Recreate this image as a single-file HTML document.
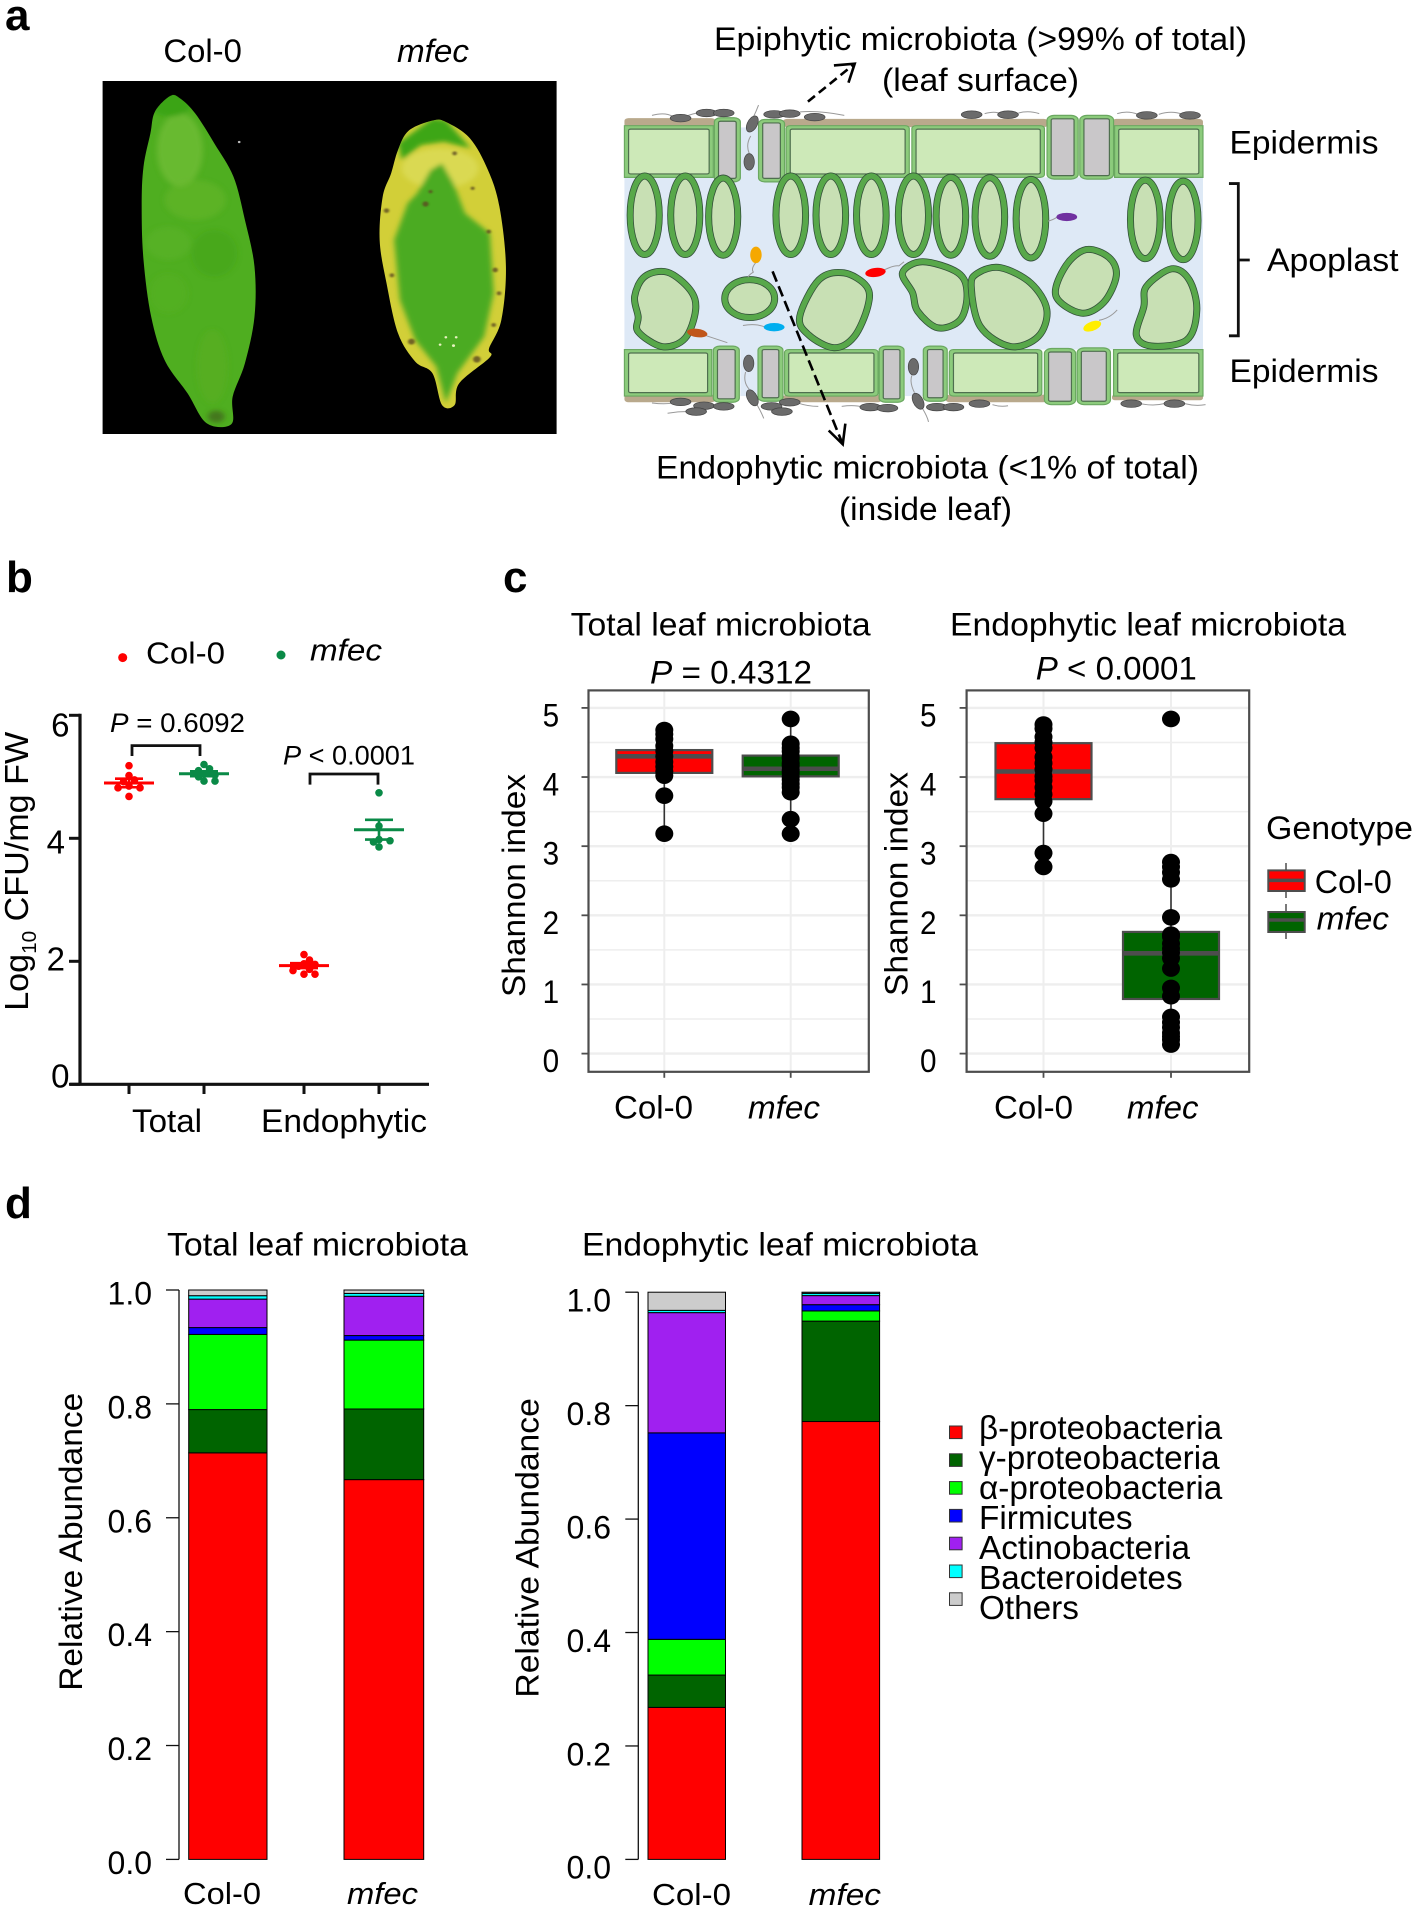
<!DOCTYPE html>
<html lang="en">
<head>
<meta charset="utf-8">
<title>Leaf microbiota figure</title>
<style>
html,body{margin:0;padding:0;background:#fff;}
#figure{display:block;width:1415px;height:1909px;font-family:"Liberation Sans",Arial,sans-serif;fill:#000;}
.ns *{vector-effect:non-scaling-stroke;}
.plabel{font-weight:bold;font-size:44px;}
.t31{font-size:32px;}
.i{font-style:italic;}
.epi{fill:#8ccb7c;stroke:#6aa860;stroke-width:1.2;}
.guard{fill:#8ccb7c;stroke:#6aa860;stroke-width:1.2;}
.cell{fill:none;stroke:#58a84a;stroke-width:5.4;}
.bact{fill:#6b6b6b;stroke:#444;stroke-width:.7;}
.flag{fill:none;stroke:#999;stroke-width:1;}
</style>
</head>
<body>
<svg id="figure" xmlns="http://www.w3.org/2000/svg" width="1415" height="1909" viewBox="0 0 1415 1909">
<defs>
<filter id="soft" x="-20%" y="-20%" width="140%" height="140%"><feGaussianBlur stdDeviation="7"/></filter>
<filter id="soft2" x="-20%" y="-20%" width="140%" height="140%"><feGaussianBlur stdDeviation="2.5"/></filter>
<clipPath id="leaf1clip"><path data-pts="445,288 405,335 393,400 375,500 370,620 375,780 395,950 430,1080 490,1180 540,1270 605,1272 608,1190 640,1090 665,950 665,800 640,660 610,530 560,430 510,340 470,295"/></clipPath>
<clipPath id="leaf2clip"><path data-pts="1130,362 1068,392 1040,450 1022,520 1000,590 992,720 1010,850 1040,1000 1085,1085 1130,1120 1155,1215 1188,1215 1200,1150 1280,1072 1278,1045 1310,960 1322,800 1305,620 1275,510 1228,415 1165,366"/></clipPath>
</defs>

<text class="plabel" x="5" y="30">a</text>
<text class="plabel" x="6" y="592">b</text>
<text class="plabel" x="503" y="592">c</text>
<text class="plabel" x="5" y="1218">d</text>

<!-- panel a: leaves -->
<g>
<text class="t31" x="163.4" y="62" textLength="78.5" lengthAdjust="spacingAndGlyphs">Col-0</text>
<text class="t31 i" x="397" y="62" textLength="72" lengthAdjust="spacingAndGlyphs">mfec</text>
<rect x="102.6" y="81" width="454" height="353" fill="#000"/>
<g transform="scale(.3827,.3333)">
<g clip-path="url(#leaf1clip)">
<rect x="350" y="270" width="340" height="1020" fill="#4fae20"/>
<g filter="url(#soft)">
<ellipse cx="470" cy="450" rx="60" ry="110" fill="#7cc23a" opacity=".6"/>
<ellipse cx="510" cy="600" rx="80" ry="60" fill="#68b82e" opacity=".5"/>
<ellipse cx="440" cy="730" rx="60" ry="50" fill="#5cb328" opacity=".5"/>
<ellipse cx="560" cy="760" rx="60" ry="70" fill="#3ea217" opacity=".45"/>
<ellipse cx="440" cy="880" rx="50" ry="60" fill="#58b126" opacity=".5"/>
<ellipse cx="555" cy="1100" rx="40" ry="110" fill="#5cae22" opacity=".5"/>
<ellipse cx="565" cy="1250" rx="22" ry="18" fill="#3f5f1a" opacity=".7"/>
<ellipse cx="445" cy="300" rx="60" ry="50" fill="#35a010" opacity=".7"/>
</g>
</g>
<g clip-path="url(#leaf2clip)">
<rect x="980" y="350" width="350" height="880" fill="#d2cf38"/>
<g filter="url(#soft)">
<ellipse cx="1150" cy="505" rx="100" ry="60" fill="#dcdc58" opacity=".8"/>
<path d="M1065 610 L1030 720 L1045 900 L1085 1020 L1140 1100 L1165 1210 L1195 1120 L1265 1010 L1290 880 L1280 700 L1215 640 L1185 550 L1155 490 L1125 510 L1090 580Z" fill="#4cab20"/>
<path d="M1130 355 L1040 430 L1050 480 L1100 435 L1160 425 L1230 445 L1165 360Z" fill="#3da615"/>
</g>
<g filter="url(#soft2)" fill="#5b4a20" opacity=".8">
<circle cx="1112" cy="612" r="8"/><circle cx="1010" cy="632" r="7"/><circle cx="1188" cy="460" r="6"/><circle cx="1125" cy="575" r="5"/>
<circle cx="1277" cy="695" r="6"/><circle cx="1294" cy="810" r="7"/><circle cx="1304" cy="880" r="6"/><circle cx="1075" cy="1025" r="9"/>
<circle cx="1246" cy="1078" r="10"/><circle cx="1290" cy="975" r="6"/><circle cx="1024" cy="826" r="6"/><circle cx="1235" cy="565" r="5"/>
</g>
</g>
<g fill="#e8f2c0">
<circle cx="1165" cy="1012" r="3.5"/><circle cx="1192" cy="1012" r="3.5"/><circle cx="1150" cy="1034" r="3.5"/><circle cx="1185" cy="1037" r="4"/>
<circle cx="625" cy="426" r="3.5" fill="#bbb"/>
</g>
</g>
</g>

<!-- panel a: diagram -->
<g class="ns" transform="translate(600,0) scale(.5198,.3444)">
<rect x="47" y="515" width="1113" height="500" fill="#dee9f6"/>
<rect x="270" y="370" width="35" height="150" fill="#dee9f6"/>
<rect x="270" y="1010" width="35" height="140" fill="#dee9f6"/>
<rect x="587" y="1010" width="35" height="140" fill="#dee9f6"/>
<g fill="#b9a98c">
<rect x="47" y="343" width="175" height="26" rx="8"/><rect x="352" y="345" width="510" height="24" rx="8"/><rect x="985" y="345" width="175" height="24" rx="8"/>
<rect x="47" y="1146" width="175" height="22" rx="8"/><rect x="352" y="1146" width="190" height="22" rx="8"/><rect x="665" y="1146" width="195" height="22" rx="8"/><rect x="985" y="1146" width="175" height="16" rx="6"/>
</g>
<g>
<rect class="epi" x="47" y="365" width="171" height="150"/><rect class="epi" x="358" y="365" width="237" height="150" rx="8"/><rect class="epi" x="600" y="365" width="255" height="150" rx="8"/><rect class="epi" x="990" y="365" width="170" height="150"/>
<rect class="guard" x="220" y="342" width="50" height="186" rx="12"/><rect class="guard" x="305" y="347" width="50" height="181" rx="12"/><rect class="guard" x="860" y="335" width="60" height="185" rx="14"/><rect class="guard" x="923" y="335" width="65" height="185" rx="14"/>
<rect class="epi" x="47" y="1015" width="168" height="135"/><rect class="epi" x="355" y="1015" width="180" height="135" rx="8"/><rect class="epi" x="672" y="1015" width="178" height="135" rx="8"/><rect class="epi" x="988" y="1015" width="172" height="135"/>
<rect class="guard" x="218" y="1005" width="50" height="163" rx="12"/><rect class="guard" x="304" y="1005" width="48" height="160" rx="12"/><rect class="guard" x="537" y="1005" width="48" height="163" rx="12"/><rect class="guard" x="622" y="1005" width="46" height="160" rx="12"/><rect class="guard" x="855" y="1012" width="60" height="163" rx="14"/><rect class="guard" x="918" y="1010" width="64" height="165" rx="14"/>
</g>
<g>
<ellipse class="cell" cx="86" cy="625" rx="28" ry="114"/><ellipse class="cell" cx="164" cy="625" rx="28" ry="114"/><ellipse class="cell" cx="237" cy="629" rx="28" ry="112"/>
<ellipse class="cell" cx="367" cy="625" rx="28.5" ry="114"/><ellipse class="cell" cx="444" cy="625" rx="28.5" ry="114"/><ellipse class="cell" cx="522" cy="625" rx="28.5" ry="114"/><ellipse class="cell" cx="603" cy="625" rx="29" ry="114"/><ellipse class="cell" cx="675" cy="628" rx="28.5" ry="113"/><ellipse class="cell" cx="750" cy="630" rx="28.5" ry="114"/><ellipse class="cell" cx="829" cy="635" rx="28.5" ry="114"/>
<ellipse class="cell" cx="1049" cy="637" rx="28.5" ry="114"/><ellipse class="cell" cx="1122" cy="640" rx="28.5" ry="114"/>
</g>
<g>
<path class="cell" data-pts="65,860 72,920 72,965 120,1010 165,985 186,900 175,840 130,787 85,800"/>
<ellipse class="cell" cx="288" cy="867" rx="48" ry="55"/>
<path class="cell" data-pts="382,920 400,975 450,1013 490,980 517,890 515,830 470,789 420,810"/>
<path class="cell" data-pts="580,790 600,850 610,905 650,955 695,930 708,850 690,790 620,757"/>
<path class="cell" data-pts="712,830 730,950 790,1010 845,980 862,900 830,820 770,774 725,790"/>
<path class="cell" data-pts="875,860 925,912 970,880 995,800 980,745 935,722 895,770"/>
<path class="cell" data-pts="1030,975 1060,1008 1130,990 1150,900 1135,810 1100,777 1050,830 1045,890"/>
</g>
<g>
<path class="flag" d="M300 762 Q290 780 295 790 Q285 800 285 805"/>
<ellipse cx="300" cy="740" rx="11" ry="24" fill="#f5a800"/>
<path class="flag" d="M545 785 Q565 770 575 772 L585 760"/>
<ellipse cx="530" cy="791" rx="20" ry="13" fill="#ff0000" transform="rotate(-15 530 791)"/>
<path class="flag" d="M880 630 Q870 640 862 642"/>
<ellipse cx="898" cy="630" rx="20" ry="12" fill="#7030a0"/>
<path class="flag" d="M318 950 Q300 938 275 945"/>
<ellipse cx="335" cy="950" rx="20" ry="12" fill="#00aeef"/>
<path class="flag" d="M205 975 Q225 985 245 995"/>
<ellipse cx="187" cy="967" rx="20" ry="12" fill="#c0561a" transform="rotate(15 187 967)"/>
<path class="flag" d="M960 930 Q980 925 995 900"/>
<ellipse cx="947" cy="947" rx="20" ry="12" fill="#ffee00" transform="rotate(-40 947 947)"/>
</g>
<g>
<path class="flag" d="M100 335 Q125 325 140 338 M170 335 Q190 325 215 322 M385 325 Q420 320 470 335 M740 330 Q760 322 770 330 M805 328 Q825 320 845 330 M995 330 Q1015 320 1035 332 M1075 332 Q1100 320 1120 332 M305 305 Q300 325 295 340 M290 395 Q280 420 287 445 M100 1170 Q125 1175 140 1170 M130 1200 Q150 1195 170 1195 M300 1170 Q310 1195 315 1215 M380 1170 Q400 1180 420 1180 M465 1180 Q490 1175 505 1182 M600 1090 Q595 1110 605 1140 M620 1185 Q630 1210 632 1225 M755 1175 Q770 1182 785 1178 M1040 1172 Q1065 1180 1085 1172 M1125 1172 Q1145 1180 1165 1175 M280 1080 Q275 1110 287 1130"/>
<g class="bact-set">
<ellipse class="bact" cx="155" cy="343" rx="20" ry="11"/><ellipse class="bact" cx="205" cy="328" rx="20" ry="11"/><ellipse class="bact" cx="238" cy="328" rx="20" ry="11"/><ellipse class="bact" cx="335" cy="332" rx="20" ry="11"/><ellipse class="bact" cx="365" cy="330" rx="20" ry="11"/><ellipse class="bact" cx="413" cy="340" rx="20" ry="11"/><ellipse class="bact" cx="715" cy="333" rx="20" ry="11"/><ellipse class="bact" cx="785" cy="333" rx="20" ry="11"/><ellipse class="bact" cx="1052" cy="335" rx="20" ry="11"/><ellipse class="bact" cx="1135" cy="335" rx="20" ry="11"/>
<ellipse class="bact" cx="293" cy="360" rx="10" ry="24" transform="rotate(15 293 360)"/><ellipse class="bact" cx="287" cy="470" rx="10" ry="24"/>
<ellipse class="bact" cx="155" cy="1167" rx="20" ry="11"/><ellipse class="bact" cx="200" cy="1178" rx="20" ry="11"/><ellipse class="bact" cx="238" cy="1180" rx="20" ry="11"/><ellipse class="bact" cx="185" cy="1195" rx="20" ry="11"/><ellipse class="bact" cx="330" cy="1180" rx="20" ry="11"/><ellipse class="bact" cx="365" cy="1168" rx="20" ry="11"/><ellipse class="bact" cx="350" cy="1195" rx="20" ry="11"/><ellipse class="bact" cx="520" cy="1182" rx="20" ry="11"/><ellipse class="bact" cx="553" cy="1185" rx="20" ry="11"/><ellipse class="bact" cx="648" cy="1182" rx="20" ry="11"/><ellipse class="bact" cx="680" cy="1182" rx="20" ry="11"/><ellipse class="bact" cx="730" cy="1172" rx="20" ry="11"/><ellipse class="bact" cx="1022" cy="1172" rx="20" ry="11"/><ellipse class="bact" cx="1105" cy="1172" rx="20" ry="11"/>
<ellipse class="bact" cx="286" cy="1055" rx="10" ry="24"/><ellipse class="bact" cx="293" cy="1155" rx="10" ry="24" transform="rotate(-15 293 1155)"/><ellipse class="bact" cx="603" cy="1065" rx="10" ry="24"/><ellipse class="bact" cx="612" cy="1165" rx="10" ry="24" transform="rotate(-15 612 1165)"/>
</g>
</g>
<g fill="none" stroke="#000" stroke-width="2.6">
<path d="M400 295 L490 185" stroke-dasharray="9 5"/>
<path d="M450 190 L490 185 L478 240"/>
<path d="M332 788 L467 1290" stroke-dasharray="11 5"/>
<path d="M440 1250 L467 1290 L472 1230"/>
</g>
<path d="M1210 533 H1228 V975 H1210 M1228 755 H1250" fill="none" stroke="#111" stroke-width="2.8"/>
</g>
<g class="t31">
<text x="714" y="50" textLength="533" lengthAdjust="spacingAndGlyphs">Epiphytic microbiota (&gt;99% of total)</text>
<text x="882" y="91" textLength="197" lengthAdjust="spacingAndGlyphs">(leaf surface)</text>
<text x="1229.5" y="153.5" textLength="149" lengthAdjust="spacingAndGlyphs">Epidermis</text>
<text x="1267" y="271" textLength="131.5" lengthAdjust="spacingAndGlyphs">Apoplast</text>
<text x="1229.5" y="382" textLength="149" lengthAdjust="spacingAndGlyphs">Epidermis</text>
<text x="656" y="478.5" textLength="543" lengthAdjust="spacingAndGlyphs">Endophytic microbiota (&lt;1% of total)</text>
<text x="839" y="520" textLength="173" lengthAdjust="spacingAndGlyphs">(inside leaf)</text>
</g>

<!-- panel b static text -->
<g id="panelB">
<circle cx="122.7" cy="657.6" r="4.5" fill="#ff0000"/>
<text x="146" y="663.3" font-size="31" textLength="79" lengthAdjust="spacingAndGlyphs">Col-0</text>
<circle cx="281" cy="655" r="4.5" fill="#0a8a47"/>
<text class="i" x="310" y="660.3" font-size="31" textLength="72" lengthAdjust="spacingAndGlyphs">mfec</text>
<text transform="translate(28,1010.8) rotate(-90)" font-size="33" textLength="279" lengthAdjust="spacingAndGlyphs">Log<tspan font-size="20" dy="8">10</tspan><tspan dy="-8"> CFU/mg FW</tspan></text>
<text x="110" y="732.2" font-size="27" textLength="135" lengthAdjust="spacingAndGlyphs"><tspan class="i">P</tspan> = 0.6092</text>
<text x="283" y="764.7" font-size="27" textLength="132" lengthAdjust="spacingAndGlyphs"><tspan class="i">P</tspan> &lt; 0.0001</text>
<path d="M132 756 V745.6 H200 V756" fill="none" stroke="#111" stroke-width="2.8"/>
<path d="M310 784.6 V774 H378 V784.6" fill="none" stroke="#111" stroke-width="2.8"/>
<text x="132" y="1132" font-size="32" textLength="70" lengthAdjust="spacingAndGlyphs">Total</text>
<text x="261" y="1132" font-size="32" textLength="166" lengthAdjust="spacingAndGlyphs">Endophytic</text>
</g>

<!-- panel c static text -->
<g id="panelC">
<text x="570.6" y="635.7" class="t31" textLength="300" lengthAdjust="spacingAndGlyphs">Total leaf microbiota</text>
<text x="650" y="683.6" class="t31" textLength="162" lengthAdjust="spacingAndGlyphs"><tspan class="i">P</tspan> = 0.4312</text>
<text x="950" y="635.7" class="t31" textLength="396" lengthAdjust="spacingAndGlyphs">Endophytic leaf microbiota</text>
<text x="1035.8" y="679.3" class="t31" textLength="161" lengthAdjust="spacingAndGlyphs"><tspan class="i">P</tspan> &lt; 0.0001</text>
<text transform="translate(525,997) rotate(-90)" class="t31" textLength="223" lengthAdjust="spacingAndGlyphs">Shannon index</text>
<text transform="translate(907.5,996) rotate(-90)" class="t31" textLength="224" lengthAdjust="spacingAndGlyphs">Shannon index</text>
<text x="1266" y="839" class="t31" textLength="147" lengthAdjust="spacingAndGlyphs">Genotype</text>
<g>
<path d="M1286 863 V898" stroke="#4d4d4d" stroke-width="1.5"/>
<rect x="1268.3" y="870.4" width="36.4" height="20.6" fill="#ff0000" stroke="#4d4d4d" stroke-width="2"/>
<path d="M1268.3 880.4 H1304.7" stroke="#4d4d4d" stroke-width="3.5"/>
</g>
<text x="1314.8" y="892.9" class="t31" textLength="77" lengthAdjust="spacingAndGlyphs">Col-0</text>
<g>
<path d="M1286 904 V939" stroke="#4d4d4d" stroke-width="1.5"/>
<rect x="1268.3" y="912" width="36.4" height="20" fill="#006400" stroke="#4d4d4d" stroke-width="2"/>
<path d="M1268.3 920 H1304.7" stroke="#4d4d4d" stroke-width="3.5"/>
</g>
<text x="1316.6" y="929.3" class="t31 i" textLength="72.4" lengthAdjust="spacingAndGlyphs">mfec</text>
</g>

<!-- panel d static text -->
<g id="panelD">
<text x="167" y="1255.6" class="t31" textLength="301" lengthAdjust="spacingAndGlyphs">Total leaf microbiota</text>
<text x="582" y="1255.6" class="t31" textLength="396" lengthAdjust="spacingAndGlyphs">Endophytic leaf microbiota</text>
<text transform="translate(82,1690.8) rotate(-90)" class="t31" textLength="298" lengthAdjust="spacingAndGlyphs">Relative Abundance</text>
<text transform="translate(538.3,1697.6) rotate(-90)" class="t31" textLength="299.4" lengthAdjust="spacingAndGlyphs">Relative Abundance</text>
</g>
</svg>

<script>
// ---------- Panel b data ----------
const bColTotal = [5.18, 5.02, 4.95, 4.92, 4.85, 4.82, 4.82, 4.68];
const bMfecTotal = [5.2, 5.13, 5.1, 5.05, 5.03, 5.0, 4.93, 4.93];
const bColEndo = [2.11, 2.02, 1.96, 1.95, 1.92, 1.87, 1.85, 1.79, 1.79];
const bMfecEndo = [4.74, 4.2, 3.98, 3.96, 3.94, 3.86];
const bColMeans = [4.9, 1.93];
const bMfecMeans = [5.05, 4.14];
const bColSem = [0.07, 0.04];
const bMfecSem = [0.04, 0.16];
const bTickLabels = ['0', '2', '4', '6'];

// ---------- Panel c data ----------
const cTotalColPoints = [4.68, 4.62, 4.55, 4.45, 4.38, 4.3, 4.22, 4.15, 4.08, 4.02, 3.73, 3.18];
const cTotalMfecPoints = [4.84, 4.48, 4.42, 4.37, 4.3, 4.27, 4.2, 4.16, 4.1, 4.06, 4.0, 3.96, 3.9, 3.85, 3.78, 3.39, 3.18];
const cEndoColPoints = [4.76, 4.7, 4.58, 4.5, 4.42, 4.29, 4.2, 4.11, 4.01, 3.95, 3.85, 3.75, 3.65, 3.47, 2.9, 2.7];
const cEndoMfecPoints = [4.84, 2.77, 2.7, 2.62, 2.52, 1.97, 1.72, 1.69, 1.59, 1.52, 1.46, 1.38, 1.23, 0.95, 0.83, 0.53, 0.45, 0.38, 0.3, 0.25, 0.2, 0.13];
const cTotalColBox = [4.06, 4.3, 4.39];
const cTotalMfecBox = [4.01, 4.12, 4.31];
const cEndoColBox = [3.68, 4.08, 4.49];
const cEndoMfecBox = [0.79, 1.45, 1.76];
const cTotalColWhisker = [3.18, 4.68];
const cTotalMfecWhisker = [3.18, 4.84];
const cEndoColWhisker = [2.7, 4.76];
const cEndoMfecWhisker = [0.13, 2.77];
const cTickLabels = ['0', '1', '2', '3', '4', '5'];

// ---------- Panel d data ----------
const dTaxa = ['β-proteobacteria', 'γ-proteobacteria', 'α-proteobacteria', 'Firmicutes', 'Actinobacteria', 'Bacteroidetes', 'Others'];
const dTotalCol = [0.714, 0.076, 0.132, 0.012, 0.050, 0.006, 0.010];
const dTotalMfec = [0.667, 0.124, 0.121, 0.008, 0.069, 0.005, 0.006];
const dEndoCol = [0.268, 0.057, 0.063, 0.364, 0.212, 0.004, 0.032];
const dEndoMfec = [0.772, 0.177, 0.018, 0.011, 0.016, 0.004, 0.002];
const dTickLabels = ['0.0', '0.2', '0.4', '0.6', '0.8', '1.0'];
const dPalette = ['#ff0000', '#006400', '#00ff00', '#0000ff', '#a020f0', '#00ffff', '#cccccc'];

const NS = 'http://www.w3.org/2000/svg';
function add(parent, tag, attrs) {
  const el = document.createElementNS(NS, tag);
  for (const k in attrs) el.setAttribute(k, attrs[k]);
  parent.appendChild(el);
  return el;
}
function addText(parent, str, attrs) {
  const t = add(parent, 'text', attrs);
  t.textContent = str;
  return t;
}

// ---------- Illustration helpers ----------
function smoothClosed(str, shrink) {
  let p = str.trim().split(/\s+/).map(function (s) { return s.split(',').map(Number); });
  const n = p.length;
  const mx = p.reduce(function (a, q) { return a + q[0]; }, 0) / n;
  const my = p.reduce(function (a, q) { return a + q[1]; }, 0) / n;
  p = p.map(function (q) { return [mx + (q[0] - mx) * shrink, my + (q[1] - my) * shrink]; });
  let d = 'M' + p[0][0] + ' ' + p[0][1];
  for (let i = 0; i < n; i++) {
    const a = p[(i - 1 + n) % n], b = p[i], c = p[(i + 1) % n], e = p[(i + 2) % n];
    d += ' C' + (b[0] + (c[0] - a[0]) / 6) + ' ' + (b[1] + (c[1] - a[1]) / 6) + ' ' +
      (c[0] - (e[0] - b[0]) / 6) + ' ' + (c[1] - (e[1] - b[1]) / 6) + ' ' + c[0] + ' ' + c[1];
  }
  return d + 'Z';
}
document.querySelectorAll('[data-pts]').forEach(function (el) {
  el.setAttribute('d', smoothClosed(el.getAttribute('data-pts'), el.classList.contains('cell') ? 0.97 : 1));
});
document.querySelectorAll('.cell').forEach(function (el) {
  const under = el.cloneNode(false);
  under.removeAttribute('class');
  under.setAttribute('fill', '#c8e0b4');
  under.setAttribute('stroke', '#33503a');
  under.setAttribute('stroke-width', '7');
  
  
  el.parentNode.insertBefore(under, el);
  
  
});
document.querySelectorAll('.epi, .guard').forEach(function (el) {
  const x = +el.getAttribute('x'), y = +el.getAttribute('y'), w = +el.getAttribute('width'), h = +el.getAttribute('height');
  const inner = add(el.parentNode, 'rect', {
    x: x + 8, y: y + 10, width: w - 16, height: h - 20, rx: 4,
    fill: el.classList.contains('epi') ? '#cde9b8' : '#c9c7c9', stroke: '#4f6f4f', 'stroke-width': 1.2
  });
  
  
  
  
});
document.querySelectorAll('.bact').forEach(function (el) {
  
  
});

// ---------- Panel b ----------
const panelB = document.getElementById('panelB');
const bY = function (v) { return 1084.3 - 61.5 * v; };
const bLabelY = function (v) { return 1087.4 - 58.5 * v; };
const bXPositions = function (groupIndex, seriesIndex) {
  return [[129, 204], [304, 379]][groupIndex][seriesIndex];
};
function swarm(values, step, minDist) {
  const placed = [];
  values.forEach(function (v) {
    const y = bY(v);
    let k = 0, dx = 0;
    for (;;) {
      dx = k === 0 ? 0 : (k % 2 ? 1 : -1) * Math.ceil(k / 2) * step;
      const clash = placed.some(function (p) {
        return Math.hypot(p.dx - dx, p.y - y) < minDist;
      });
      if (!clash) break;
      k++;
    }
    placed.push({ dx: dx, y: y });
  });
  return placed;
}
function drawB(values, mean, sem, gi, si, color, name) {
  const cx = bXPositions(gi, si);
  swarm(values, 5.5, 6).forEach(function (p) {
    const dot = add(panelB, 'circle', { cx: cx + p.dx, cy: p.y, r: 3.8, fill: color });
    
    
  });
  const meanLine = add(panelB, 'line', { x1: cx - 25, x2: cx + 25, y1: bY(mean), y2: bY(mean), stroke: color, 'stroke-width': 3 });
  
  
  const err = add(panelB, 'path', {
    d: 'M' + (cx - 14) + ' ' + bY(mean + sem) + ' H' + (cx + 14) + ' M' + cx + ' ' + bY(mean + sem) + ' V' + bY(mean - sem) + ' M' + (cx - 14) + ' ' + bY(mean - sem) + ' H' + (cx + 14),
    stroke: color, 'stroke-width': 2.6, fill: 'none'
  });
  
  
}
drawB(bColTotal, bColMeans[0], bColSem[0], 0, 0, '#ff0000', 'col-0-total');
drawB(bMfecTotal, bMfecMeans[0], bMfecSem[0], 0, 1, '#0a8a47', 'mfec-total');
drawB(bColEndo, bColMeans[1], bColSem[1], 1, 0, '#ff0000', 'col-0-endophytic');
drawB(bMfecEndo, bMfecMeans[1], bMfecSem[1], 1, 1, '#0a8a47', 'mfec-endophytic');
const bAxisY = add(panelB, 'line', { x1: 80, x2: 80, y1: bY(6) - 1.5, y2: bY(0), stroke: '#111', 'stroke-width': 3.2 });


const bAxisX = add(panelB, 'line', { x1: 70, x2: 429, y1: bY(0), y2: bY(0), stroke: '#111', 'stroke-width': 3.2 });


bTickLabels.forEach(function (lab) {
  const v = Number(lab);
  const tick = add(panelB, 'line', { x1: 69, x2: 80, y1: bY(v), y2: bY(v), stroke: '#111', 'stroke-width': 3 });
  
  
  const txt = addText(panelB, lab, { x: v % 6 === 0 ? 69.5 : 65, y: bLabelY(v), 'font-size': 33, 'text-anchor': 'end' });
  
  
});
[0, 1].forEach(function (g) {
  [0, 1].forEach(function (s) {
    const tick = add(panelB, 'line', { x1: bXPositions(g, s), x2: bXPositions(g, s), y1: bY(0), y2: 1094, stroke: '#111', 'stroke-width': 3 });
    
    
  });
});

// ---------- Panel c ----------
const panelC = document.getElementById('panelC');
const cY = function (v) { return 1053.6 - 69.14 * v; };
function drawFacet(cfg) {
  const L = cfg.left, R = cfg.right, T = 690.4, B = 1071.8;
  for (let v = 0; v <= 5; v += 0.5) {
    const major = Number.isInteger(v);
    const gl = add(panelC, 'line', { x1: L, x2: R, y1: cY(v), y2: cY(v), stroke: '#eeeeee', 'stroke-width': major ? 2.4 : 1.5 });
    
    
  }
  cfg.centers.forEach(function (cx) {
    const gl = add(panelC, 'line', { x1: cx, x2: cx, y1: T, y2: B, stroke: '#eeeeee', 'stroke-width': 2 });
    
    
  });
  cfg.series.forEach(function (s, i) {
    const cx = cfg.centers[i];
    const w = add(panelC, 'line', { x1: cx, x2: cx, y1: cY(s.whisker[0]), y2: cY(s.whisker[1]), stroke: '#333', 'stroke-width': 1.6 });
    
    
    const box = add(panelC, 'rect', { x: cx - 48, y: cY(s.box[2]), width: 96, height: cY(s.box[0]) - cY(s.box[2]), fill: s.color, stroke: '#4d4d4d', 'stroke-width': 2.2 });
    
    
    const med = add(panelC, 'line', { x1: cx - 48, x2: cx + 48, y1: cY(s.box[1]), y2: cY(s.box[1]), stroke: '#4d4d4d', 'stroke-width': 4.6 });
    
    
    s.points.forEach(function (v) {
      const dot = add(panelC, 'ellipse', { cx: cx, cy: cY(v), rx: 9, ry: 8.3, fill: '#000' });
      
      
    });
    const tick = add(panelC, 'line', { x1: cx, x2: cx, y1: B, y2: B + 6, stroke: '#4d4d4d', 'stroke-width': 1.8 });
    
    
    const xl = addText(panelC, s.label, { x: s.labelX, y: 1118.6, 'font-size': 32, textLength: s.labelW, lengthAdjust: 'spacingAndGlyphs' });
    if (i === 1) xl.setAttribute('font-style', 'italic');
    
    
  });
  const frame = add(panelC, 'rect', { x: L, y: T, width: R - L, height: B - T, fill: 'none', stroke: '#4d4d4d', 'stroke-width': 2.2 });
  
  
  cTickLabels.forEach(function (lab) {
    const v = Number(lab);
    const tick = add(panelC, 'line', { x1: L - 7, x2: L, y1: cY(v), y2: cY(v), stroke: '#4d4d4d', 'stroke-width': 1.8 });
    
    
    const txt = addText(panelC, lab, { x: cfg.tickX, y: cY(v) + 18.5, 'font-size': 32, textLength: 16.5, lengthAdjust: 'spacingAndGlyphs' });
    
    
  });
}
drawFacet({
  left: 588.5, right: 868.8, tickX: 542.6, centers: [664.3, 790.7],
  series: [
    { name: 'total-col-0', label: 'Col-0', labelX: 614, labelW: 79, color: '#ff0000', points: cTotalColPoints, box: cTotalColBox, whisker: cTotalColWhisker },
    { name: 'total-mfec', label: 'mfec', labelX: 748, labelW: 72, color: '#006400', points: cTotalMfecPoints, box: cTotalMfecBox, whisker: cTotalMfecWhisker }
  ]
});
drawFacet({
  left: 966.6, right: 1249.2, tickX: 920, centers: [1043.5, 1171],
  series: [
    { name: 'endophytic-col-0', label: 'Col-0', labelX: 994, labelW: 79, color: '#ff0000', points: cEndoColPoints, box: cEndoColBox, whisker: cEndoColWhisker },
    { name: 'endophytic-mfec', label: 'mfec', labelX: 1127, labelW: 71.5, color: '#006400', points: cEndoMfecPoints, box: cEndoMfecBox, whisker: cEndoMfecWhisker }
  ]
});

// ---------- Panel d ----------
const panelD = document.getElementById('panelD');
function drawStack(cfg) {
  const y = function (v) { return cfg.y0 - cfg.unit * v; };
  cfg.bars.forEach(function (bar) {
    let cum = 0;
    bar.values.forEach(function (v, i) {
      const top = cum + v;
      const seg = add(panelD, 'rect', { x: bar.x, y: y(top), width: bar.w, height: y(cum) - y(top), fill: dPalette[i], stroke: '#000', 'stroke-width': 1 });
      
      
      cum = top;
    });
    const lab = addText(panelD, bar.label, { x: bar.labelX, y: cfg.labelY, 'font-size': 31, textLength: bar.labelW, lengthAdjust: 'spacingAndGlyphs' });
    if (bar.italic) lab.setAttribute('font-style', 'italic');
    
    
  });
  const axis = add(panelD, 'line', { x1: cfg.axisX, x2: cfg.axisX, y1: y(1), y2: y(0), stroke: '#111', 'stroke-width': 1.3 });
  
  
  dTickLabels.forEach(function (lab) {
    const v = Number(lab);
    const tick = add(panelD, 'line', { x1: cfg.axisX - 13, x2: cfg.axisX, y1: y(v), y2: y(v), stroke: '#111', 'stroke-width': 1.3 });
    
    
    const txt = addText(panelD, lab, { x: cfg.tickEnd, y: y(v) + cfg.tickDy, 'font-size': 32, 'text-anchor': 'end' });
    
    
  });
}
drawStack({
  y0: 1859.4, unit: 569.4, axisX: 179, tickEnd: 152, tickDy: 14.6, labelY: 1904,
  bars: [
    { name: 'total-col-0', label: 'Col-0', labelX: 183, labelW: 78, x: 188.7, w: 78.3, values: dTotalCol },
    { name: 'total-mfec', label: 'mfec', labelX: 347, labelW: 71, x: 344, w: 79.7, italic: true, values: dTotalMfec }
  ]
});
drawStack({
  y0: 1859.4, unit: 567.2, axisX: 638.3, tickEnd: 611, tickDy: 19.3, labelY: 1905,
  bars: [
    { name: 'endophytic-col-0', label: 'Col-0', labelX: 652, labelW: 79, x: 648, w: 77.5, values: dEndoCol },
    { name: 'endophytic-mfec', label: 'mfec', labelX: 808.7, labelW: 72.3, x: 802, w: 77.6, italic: true, values: dEndoMfec }
  ]
});
dTaxa.forEach(function (name, i) {
  const ys = 1432 + i * 27.8;
  const sw = add(panelD, 'rect', { x: 949.5, y: ys - 6, width: 12.6, height: 12.6, fill: dPalette[i], stroke: '#333', 'stroke-width': 1 });
  
  
  const lab = addText(panelD, name, { x: 979, y: 1439 + i * 30, 'font-size': 33.3 });
  
  
});
</script>
</body>
</html>
